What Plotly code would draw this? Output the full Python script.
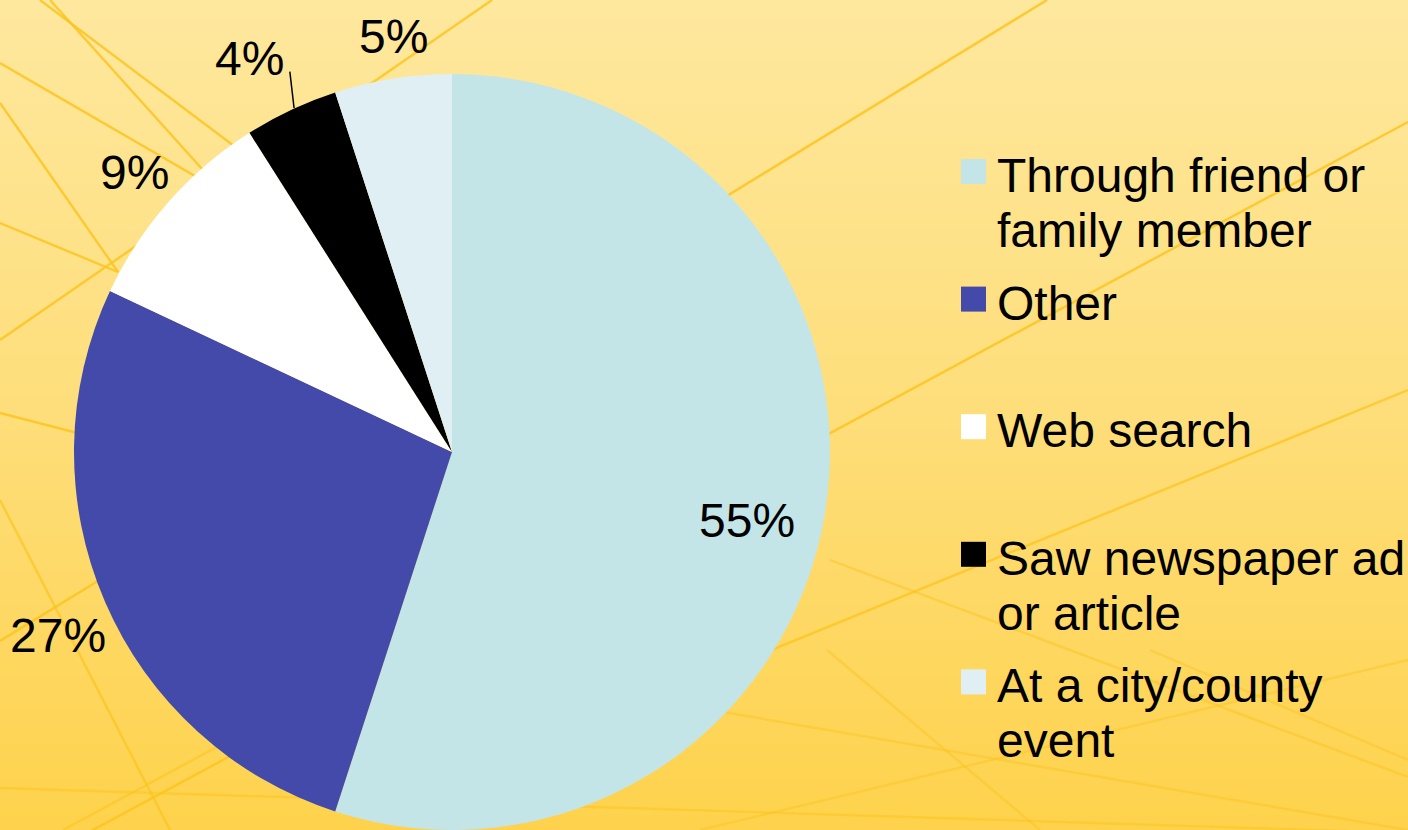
import math
import plotly.graph_objects as go

# ---- data -------------------------------------------------------------
labels = [
    "Through friend or family member",
    "Other",
    "Web search",
    "Saw newspaper ad or article",
    "At a city/county event",
]
legend_lines = [
    ["Through friend or", "family member"],
    ["Other"],
    ["Web search"],
    ["Saw newspaper ad", "or article"],
    ["At a city/county", "event"],
]
values = [55, 27, 9, 4, 5]
colors = ["#C4E5E8", "#434AA9", "#FFFFFF", "#000000", "#DFEFF4"]

# ---- geometry / style -------------------------------------------------
W, H = 1408, 830
CX, CY, R = 452, 452, 378          # pie centre and radius in pixels
FONT = "Liberation Sans, Arial, sans-serif"
FS = 48
label_radius = [0.80, 1.15, 1.12, 1.17, 1.11]   # label distance as fraction of R
label_nudge = [4, -1.5, 0, -2, 1]               # small angular offsets (deg)
leader_for = [False, False, False, True, False]


def px(x):
    return x / W


def py(y):
    return 1 - y / H


shapes = []

# vertical gradient background built from thin bands
top_c = (254, 232, 158)
mid_c = (254, 222, 122)
bot_c = (254, 210, 76)
band = 5
for y0 in range(0, H, band):
    t = (y0 + band / 2) / H
    if t < 0.5:
        a, b, f = top_c, mid_c, t / 0.5
    else:
        a, b, f = mid_c, bot_c, (t - 0.5) / 0.5
    c = tuple(round(a[k] + (b[k] - a[k]) * f) for k in range(3))
    shapes.append(dict(
        type="rect", xref="paper", yref="paper", layer="below",
        x0=0, x1=1, y0=py(y0 + band + 0.5), y1=py(y0),
        fillcolor="rgb(%d,%d,%d)" % c, line=dict(width=0),
    ))

# decorative golden streaks: (start, end, opacity)
bg_lines = [
    ((492, 0), (0, 340), 0.85),
    ((1047, 0), (0, 641), 0.85),
    ((1408, 122), (0, 880), 0.85),
    ((40, 0), (452, 310), 0.85),
    ((50, 0), (300, 278), 0.85),
    ((0, 63), (452, 325), 0.85),
    ((0, 103), (118, 272), 0.85),
    ((0, 223), (118, 272), 0.85),
    ((0, 413), (452, 530), 0.85),
    ((0, 500), (170, 830), 0.7),
    ((0, 788), (1408, 833), 0.55),
    ((63, 830), (452, 620), 0.6),
    ((1408, 390), (600, 720), 0.75),
    ((830, 560), (1408, 777), 0.5),
    ((700, 708), (1408, 830), 0.45),
    ((827, 650), (1040, 830), 0.45),
    ((700, 830), (1408, 660), 0.45),
    ((1150, 650), (1408, 760), 0.45),
]
for (x0, y0), (x1, y1), op in bg_lines:
    shapes.append(dict(
        type="line", xref="paper", yref="paper", layer="below",
        x0=px(x0), y0=py(y0), x1=px(x1), y1=py(y1),
        line=dict(color="rgba(251,196,30,%.2f)" % op, width=2.4),
    ))

# ---- pie --------------------------------------------------------------
fig = go.Figure(go.Pie(
    labels=labels,
    values=values,
    sort=False,
    direction="clockwise",
    rotation=0,
    textinfo="none",
    marker=dict(colors=colors, line=dict(width=0)),
    domain=dict(x=[px(CX - R), px(CX + R)], y=[py(CY + R), py(CY - R)]),
    showlegend=False,
    hoverinfo="label+percent",
))

annotations = []
total = sum(values)
cum = 0
for i, v in enumerate(values):
    mid = (cum + v / 2) / total * 360
    cum += v
    ang = math.radians(mid + label_nudge[i])
    r = R * label_radius[i]
    lx = CX + r * math.sin(ang)
    ly = CY - r * math.cos(ang)
    annotations.append(dict(
        x=px(lx), y=py(ly), xref="paper", yref="paper",
        text="%d%%" % round(v / total * 100), showarrow=False,
        xanchor="center", yanchor="middle",
        font=dict(family=FONT, size=FS, color="black"),
    ))
    if leader_for[i]:
        ma = math.radians(mid)
        ex = CX + R * math.sin(ma)
        ey = CY - R * math.cos(ma)
        shapes.append(dict(
            type="line", xref="paper", yref="paper",
            x0=px(ex + 3), y0=py(ey - 2), x1=px(lx + 40), y1=py(ly + 13),
            line=dict(color="black", width=1.5),
        ))

# ---- legend -----------------------------------------------------------
first_line_y = 175.5
item_step = 127.6
line_step = 55
for i, lines in enumerate(legend_lines):
    yc = first_line_y + i * item_step
    shapes.append(dict(
        type="rect", xref="paper", yref="paper",
        x0=px(961), x1=px(986), y0=py(yc - 4 + 12.5), y1=py(yc - 4 - 12.5),
        fillcolor=colors[i], line=dict(width=0),
    ))
    for j, txt in enumerate(lines):
        annotations.append(dict(
            x=px(995), y=py(yc + j * line_step), xref="paper", yref="paper",
            text=txt, showarrow=False, xanchor="left", yanchor="middle",
            font=dict(family=FONT, size=FS, color="black"),
        ))

fig.update_layout(
    width=W, height=H,
    margin=dict(l=0, r=0, t=0, b=0),
    paper_bgcolor="#FEDE7E",
    plot_bgcolor="rgba(0,0,0,0)",
    shapes=shapes,
    annotations=annotations,
    font=dict(family=FONT),
)

fig.write_html("out.html")
